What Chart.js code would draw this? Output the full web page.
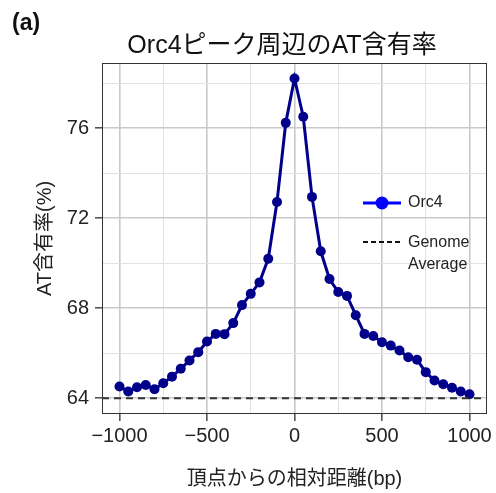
<!DOCTYPE html>
<html>
<head>
<meta charset="utf-8">
<script src="https://cdn.jsdelivr.net/npm/chart.js@4.4.0/dist/chart.umd.min.js"></script>
<style>
  html, body { margin: 0; padding: 0; background: #fff; }
</style>
</head>
<body>
<canvas id="chart" width="496" height="493"></canvas>
<script>
// distance from the peak (bp)
const distances = [-1000, -950, -900, -850, -800, -750, -700, -650, -600, -550, -500,
                   -450, -400, -350, -300, -250, -200, -150, -100, -50, 0,
                   50, 100, 150, 200, 250, 300, 350, 400, 450, 500,
                   550, 600, 650, 700, 750, 800, 850, 900, 950, 1000];
// AT content around Orc4 peaks (%)
const orc4AT = [64.52, 64.30, 64.49, 64.59, 64.40, 64.67, 64.96, 65.31, 65.68, 66.05, 66.52,
                66.86, 66.85, 67.34, 68.14, 68.64, 69.15, 70.20, 72.72, 76.24, 78.21,
                76.51, 72.95, 70.53, 69.30, 68.72, 68.55, 67.69, 66.86, 66.77, 66.49,
                66.34, 66.12, 65.82, 65.71, 65.16, 64.79, 64.62, 64.47, 64.30, 64.18];
const genomeAverage = 64.0;

const xGrid = [-1000, -750, -500, -250, 0, 250, 500, 750, 1000];
const xLabels = [-1000, -500, 0, 500, 1000];
const yGrid = [64, 66, 68, 70, 72, 74, 76, 78];
const yLabels = [64, 68, 72, 76];

const FONT = '"Liberation Sans", Arial, "Noto Sans CJK JP", sans-serif';

const orc4Points = distances.map((d, i) => ({ x: d, y: orc4AT[i] }));
const genomePoints = [{ x: -1100, y: genomeAverage }, { x: 1100, y: genomeAverage }];

function isMajor(list, v) { return list.indexOf(v) !== -1; }

const decor = {
  id: 'decor',
  beforeDatasetsDraw(chart) {
    const a = chart.chartArea, ctx = chart.ctx;
    ctx.save();
    ctx.strokeStyle = '#333';
    ctx.lineWidth = 1;
    ctx.strokeRect(a.left + 0.5, a.top + 0.5, a.right - a.left - 1, a.bottom - a.top - 1);
    ctx.restore();
  },
  afterDraw(chart) {
    const ctx = chart.ctx;
    ctx.save();
    ctx.fillStyle = '#111';
    ctx.textBaseline = 'middle';
    ctx.textAlign = 'left';
    ctx.font = 'bold 23px ' + FONT;
    ctx.fillText('(a)', 12, 24);
    ctx.font = '25px ' + FONT;
    ctx.textAlign = 'center';
    ctx.fillText('Orc4ピーク周辺のAT含有率', 282, 46);

    // legend
    ctx.textAlign = 'left';
    ctx.font = '16px ' + FONT;
    ctx.strokeStyle = '#0000ff';
    ctx.lineWidth = 3;
    ctx.beginPath(); ctx.moveTo(363, 203); ctx.lineTo(401, 203); ctx.stroke();
    ctx.fillStyle = '#0000ff';
    ctx.beginPath(); ctx.arc(382, 203, 6.5, 0, Math.PI * 2); ctx.fill();
    ctx.fillStyle = '#222';
    ctx.fillText('Orc4', 408, 203);
    ctx.strokeStyle = '#111';
    ctx.lineWidth = 2;
    ctx.setLineDash([5, 3]);
    ctx.beginPath(); ctx.moveTo(363, 242); ctx.lineTo(401, 242); ctx.stroke();
    ctx.setLineDash([]);
    ctx.fillText('Genome', 408, 243);
    ctx.fillText('Average', 408, 265);
    ctx.restore();
  }
};

new Chart(document.getElementById('chart'), {
  type: 'scatter',
  data: {
    datasets: [
      {
        label: 'Genome Average',
        data: genomePoints,
        showLine: true,
        borderColor: '#333',
        borderWidth: 2,
        borderDash: [7, 5],
        pointRadius: 0
      },
      {
        label: 'Orc4',
        data: orc4Points,
        showLine: true,
        borderColor: '#00008b',
        backgroundColor: '#00008b',
        borderWidth: 3,
        pointRadius: 5,
        pointBorderWidth: 0
      }
    ]
  },
  options: {
    responsive: false,
    animation: false,
    devicePixelRatio: 1,
    layout: { padding: { top: 63, left: 26, right: 9, bottom: 2 } },
    plugins: {
      legend: { display: false },
      title: { display: false },
      tooltip: { enabled: false }
    },
    scales: {
      x: {
        type: 'linear',
        min: -1100,
        max: 1100,
        afterBuildTicks: s => { s.ticks = xGrid.map(v => ({ value: v })); },
        afterFit: s => { s.height = 77; },
        border: { display: false },
        grid: {
          color: c => isMajor(xLabels, c.tick.value) ? '#c9c9c9' : '#e2e2e2',
          lineWidth: c => isMajor(xLabels, c.tick.value) ? 1.6 : 1,
          tickColor: c => isMajor(xLabels, c.tick.value) ? '#555' : 'rgba(0,0,0,0)',
          tickLength: 7
        },
        ticks: {
          autoSkip: false,
          maxRotation: 0,
          padding: 3,
          color: '#222',
          font: { family: FONT, size: 20 },
          callback: v => isMajor(xLabels, v) ? String(v).replace('-', '\u2212') : ''
        },
        title: {
          display: true,
          text: '頂点からの相対距離(bp)',
          color: '#222',
          font: { family: FONT, size: 20 },
          padding: { top: 2, bottom: 0 }
        }
      },
      y: {
        min: 63.3,
        max: 78.9,
        afterBuildTicks: s => { s.ticks = yGrid.map(v => ({ value: v })); },
        afterFit: s => { s.width = 76; },
        border: { display: false },
        grid: {
          color: c => isMajor(yLabels, c.tick.value) ? '#c9c9c9' : '#e2e2e2',
          lineWidth: c => isMajor(yLabels, c.tick.value) ? 1.6 : 1,
          tickColor: c => isMajor(yLabels, c.tick.value) ? '#555' : 'rgba(0,0,0,0)',
          tickLength: 7
        },
        ticks: {
          autoSkip: false,
          padding: 6,
          color: '#222',
          font: { family: FONT, size: 20 },
          callback: v => isMajor(yLabels, v) ? String(v) : ''
        },
        title: {
          display: true,
          text: 'AT含有率(%)',
          color: '#222',
          font: { family: FONT, size: 20 },
          padding: { top: 7, bottom: 0 }
        }
      }
    }
  },
  plugins: [decor]
});
</script>
</body>
</html>
